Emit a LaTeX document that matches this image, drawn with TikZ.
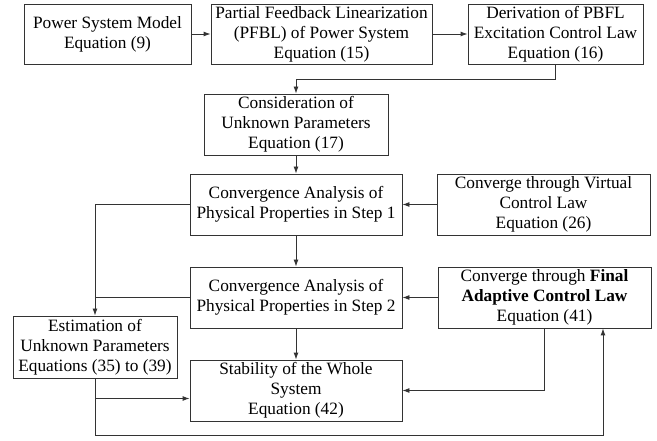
\documentclass[tikz,border=0pt]{standalone}
\usepackage{fontspec}
\setmainfont{Liberation Serif}
\usetikzlibrary{arrows.meta,positioning,calc}
\tikzset{
	>={Latex[length=7pt,width=5pt]},
	every edge/.style={draw=black!80, line width=0.9pt},
}
\begin{document}
\begin{tikzpicture}[x=1pt,y=-1pt]
    \tikzset{block/.style= {draw=black!80, line width=0.9pt, rectangle, align=center, inner sep=0pt, font=\fontsize{17.3}{20}\selectfont},
      link/.style={draw=black!80, line width=0.9pt, ->},
    }
    \useasboundingbox (0,0) rectangle (657,441);
    \node[block, minimum width=167, minimum height=60] at (107.5,34) (model) {Power System Model\\Equation (9)};
    \node[block, minimum width=221, minimum height=60] at (321.5,34) (pfbl) {Partial Feedback Linearization\\(PFBL) of Power System\\Equation (15)};
    \node[block, minimum width=175, minimum height=60] at (555.5,34) (pbfllaw) {Derivation of PBFL\\Excitation Control Law\\Equation (16)};

    \node[block, minimum width=184, minimum height=61] at (296,124.5) (unknown) {Consideration of\\Unknown Parameters\\Equation (17)};
    \node[block, minimum width=212, minimum height=61] at (296,204.5) (step1) {Convergence Analysis of\\Physical Properties in Step 1};
    \node[block, minimum width=213, minimum height=61] at (543.5,204.5) (virtual) {Converge through Virtual\\Control Law\\Equation (26)};
    \node[block, minimum width=212, minimum height=61] at (296,297.5) (step2) {Convergence Analysis of\\Physical Properties in Step 2};
    \node[block, minimum width=213, minimum height=61] at (544.5,297.5) (final) {Converge through \textbf{Final}\\\textbf{Adaptive Control Law}\\Equation (41)};
    \node[block, minimum width=164, minimum height=62] at (95,347) (estim) {Estimation of\\Unknown Parameters\\Equations (35) to (39)};
    \node[block, minimum width=212, minimum height=61] at (296,390.5) (stab) {Stability of the Whole\\System\\Equation (42)};
    \coordinate (loop) at (603,435);

    \path[link] (model) edge (pfbl);
    \path[link] (pfbl) edge (pbfllaw);
    \draw[link] (pbfllaw.south) -- ++(0,15) -| (unknown.north);
    \path[link] (unknown) edge (step1);
    \path[link] (virtual) edge (step1);
    \path[link] (step1) edge (step2);
    \path[link] (final) edge (step2);
    \path[link] (step2) edge (stab);
    \draw[link] (step1.west) -| (estim.north);
    \draw[draw=black!80, line width=0.9pt] (step2.west) -- (step2.west -| estim.north);
    \draw[link] (estim.south) |- ([yshift=-8pt]stab.west);
    \draw[link] (estim.south) |- (loop) -- (loop |- final.south);
    \draw[link] (final.south) |- (stab.east);
  \end{tikzpicture}
\end{document}
